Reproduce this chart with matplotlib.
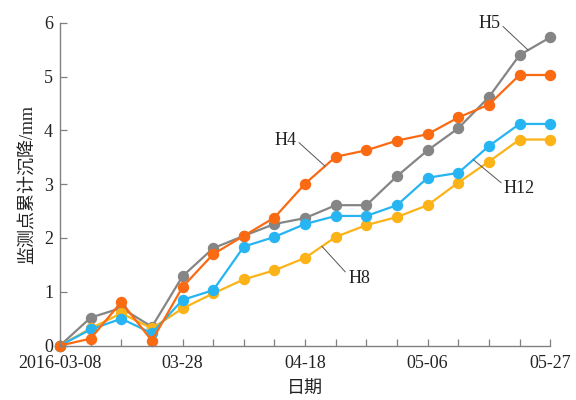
import numpy as np
import matplotlib
matplotlib.use("Agg")
import matplotlib.pyplot as plt

plt.rcParams['font.family'] = ['Liberation Serif', 'Noto Sans CJK SC', 'DejaVu Sans']

# 17 monitoring dates, evenly spaced on the axis
n_points = 17
tick_labels = ['2016-03-08', '', '', '', '03-28', '', '', '', '04-18',
               '', '', '', '05-06', '', '', '', '05-27']

h5 = [0, 0.52, 0.70, 0.35, 1.29, 1.81, 2.04, 2.26, 2.37, 2.61, 2.61,
      3.15, 3.63, 4.04, 4.62, 5.40, 5.73]
h4 = [0, 0.13, 0.81, 0.09, 1.09, 1.70, 2.04, 2.38, 3.01, 3.51, 3.63,
      3.81, 3.93, 4.24, 4.48, 5.03, 5.03]
h12 = [0, 0.30, 0.50, 0.23, 0.85, 1.03, 1.84, 2.02, 2.26, 2.41, 2.41,
       2.61, 3.12, 3.21, 3.71, 4.12, 4.12]
h8 = [0, 0.32, 0.60, 0.32, 0.69, 0.97, 1.23, 1.40, 1.63, 2.02, 2.24,
      2.39, 2.61, 3.03, 3.42, 3.83, 3.83]

x = np.arange(n_points)

fig = plt.figure(figsize=(5.76, 4), dpi=100)
ax = fig.add_axes([0.1042, 0.136, 0.851, 0.807])

style = dict(lw=1.6, marker='o', ms=7.2, clip_on=False)
ax.plot(x, h5, color='#858585', **style)
ax.plot(x, h8, color='#FBB317', **style)
ax.plot(x, h12, color='#26B5F2', **style)
ax.plot(x, h4, color='#FA6A12', **style)

ax.set_xlim(0, n_points - 1)
ax.set_ylim(0, 6)
ax.set_xticks(x)
ax.set_xticklabels(tick_labels)
ax.set_yticks(range(0, 7))

for s in ['top', 'right']:
    ax.spines[s].set_visible(False)
for s in ['left', 'bottom']:
    ax.spines[s].set_color('#808080')
    ax.spines[s].set_linewidth(1.0)

ax.tick_params(axis='both', direction='in', length=5, width=0.9,
               color='#808080', labelsize=13, labelcolor='#222222')
ax.tick_params(axis='x', pad=7)
ax.tick_params(axis='y', pad=5)

ax.set_xlabel('日期', fontsize=13, color='#222222', labelpad=6)
ax.set_ylabel('监测点累计沉降/mm', fontsize=13, color='#222222', labelpad=6)

# series labels with leader lines
def label(name, series, at, text_xy, relpos):
    y = np.interp(at, x, series)
    ax.annotate(name, xy=(at, y), xytext=text_xy, textcoords='data',
                ha='center', va='center', fontsize=13, color='#222222',
                arrowprops=dict(arrowstyle='-', color='#555555', lw=0.7,
                                shrinkA=0, shrinkB=0, relpos=relpos))

label('H4', h4, 8.65, (7.35, 3.82), (1, 0.5))
label('H8', h8, 8.55, (9.76, 1.25), (0, 0.7))
label('H5', h5, 15.28, (14.01, 5.98), (1, 0.5))
label('H12', h12, 13.49, (15.0, 2.92), (0, 0.7))

fig.savefig('out.png', dpi=100)
